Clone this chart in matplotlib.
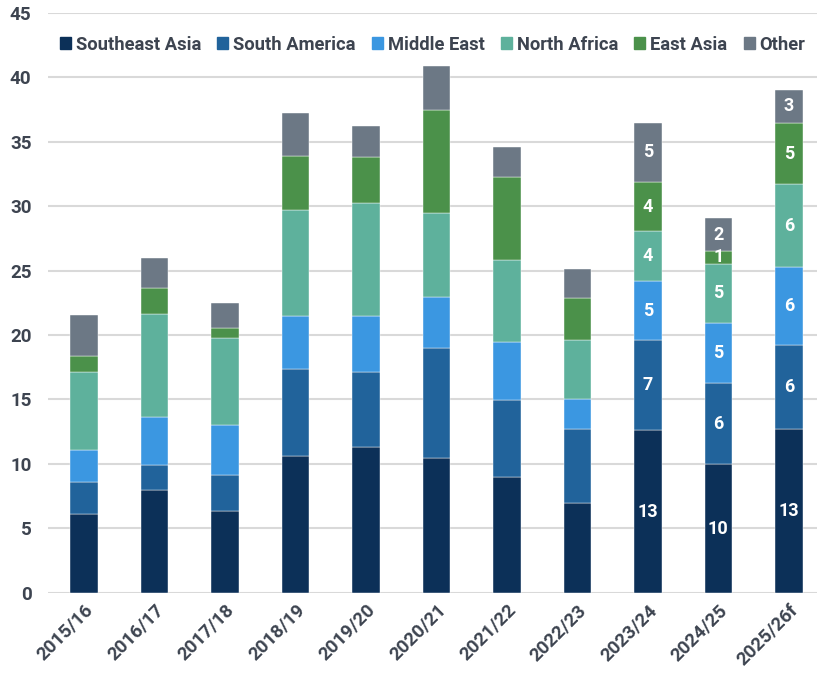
import numpy as np
import matplotlib
matplotlib.use('Agg')
import matplotlib.pyplot as plt
from matplotlib.patches import Patch

plt.rcParams['font.family'] = ['Roboto', 'DejaVu Sans']

seasons = ['2015/16', '2016/17', '2017/18', '2018/19', '2019/20', '2020/21',
           '2021/22', '2022/23', '2023/24', '2024/25', '2025/26f']
regions = ['Southeast Asia', 'South America', 'Middle East', 'North Africa', 'East Asia', 'Other']

southeast_asia = [6.1, 7.95, 6.35, 10.6, 11.3, 10.45, 8.95, 6.95, 12.6, 9.95, 12.7]
south_america = [2.5, 1.95, 2.8, 6.75, 5.8, 8.55, 6.0, 5.75, 7.0, 6.35, 6.5]
middle_east = [2.5, 3.7, 3.85, 4.15, 4.4, 3.95, 4.5, 2.3, 4.6, 4.65, 6.05]
north_africa = [6.05, 8.05, 6.75, 8.2, 8.75, 6.5, 6.35, 4.6, 3.85, 4.6, 6.45]
east_asia = [1.2, 2.0, 0.8, 4.2, 3.55, 8.05, 6.5, 3.25, 3.8, 1.0, 4.75]
other = [3.2, 2.3, 1.9, 3.3, 2.4, 3.4, 2.3, 2.3, 4.65, 2.5, 2.6]

# only the last three seasons carry value labels
labelled = [8, 9, 10]

colors = ['#0c3058', '#21639b', '#3b97e1', '#5eb19c', '#4b914a', '#6c7885']
text_color = '#3d4450'

series = [southeast_asia, south_america, middle_east, north_africa, east_asia, other]

fig = plt.figure(figsize=(8.17, 6.75), dpi=100)
ax = fig.add_axes([0.059, 0.122, 0.941, 0.8587])

x = np.arange(len(seasons))
bottom = np.zeros(len(seasons))
for vals, c in zip(series, colors):
    vals = np.array(vals)
    ax.bar(x, vals, 0.39, bottom=bottom, color=c, edgecolor='white', linewidth=0.3, zorder=3)
    for i in labelled:
        ax.text(x[i], bottom[i] + vals[i] / 2, f'{vals[i]:.0f}', ha='center', va='center',
                color='white', fontsize=13, fontweight='bold', zorder=4)
    bottom += vals

ax.set_ylim(0, 45)
ax.set_yticks(range(0, 46, 5))
ax.set_xlim(-0.51, 10.4)
ax.set_xticks(x)
ax.set_xticklabels(seasons, rotation=45, ha='right', rotation_mode='anchor')
ax.grid(axis='y', color='#d9d9d9', linewidth=1.5, zorder=0)
for s in ax.spines.values():
    s.set_visible(False)
ax.tick_params(length=0, labelsize=13.5, labelcolor=text_color, pad=6)
ax.tick_params(axis='y', pad=12)
for lab in ax.get_xticklabels() + ax.get_yticklabels():
    lab.set_fontweight('bold')

handles = [Patch(color=c) for c in colors]
leg = ax.legend(handles, regions, ncol=6, loc='center', bbox_to_anchor=(0.5, 0.9455),
                frameon=False, handlelength=0.6, handleheight=0.6, handletextpad=0.25,
                columnspacing=0.9, fontsize=13.2, borderaxespad=0)
for t in leg.get_texts():
    t.set_color(text_color)
    t.set_fontweight('semibold')

fig.savefig('out.png', dpi=100)
